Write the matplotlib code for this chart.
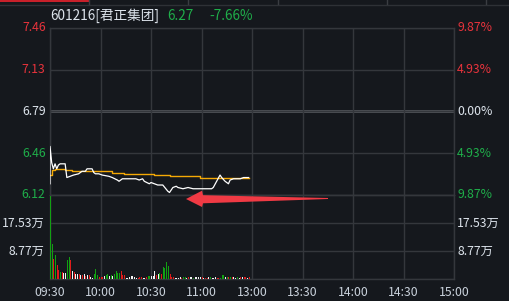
import matplotlib
matplotlib.use("Agg")
import matplotlib.pyplot as plt
from matplotlib.patches import Polygon, Rectangle

plt.rcParams['font.family'] = ['Noto Sans CJK SC', 'DejaVu Sans']

# -----------------------------
# Data
# -----------------------------
prev_close = 6.79
price_ticks = [6.12, 6.46, 6.79, 7.13, 7.46]
pct_labels = ["9.87%", "4.93%", "0.00%", "4.93%", "9.87%"]
vol_ticks = [8.77, 17.53]
vol_labels = ["8.77万", "17.53万"]
time_labels = ["09:30", "10:00", "10:30", "11:00", "13:00", "13:30", "14:00", "14:30", "15:00"]

# minute index (from 09:30) and price vertices of the white price line
price_min = [0, 0, 1, 2, 3, 4, 5, 6, 9, 10, 12, 14, 17, 19, 21, 22, 25, 26, 27, 29,
             31, 35, 37, 40, 41, 43, 45, 51, 53, 55, 56, 59, 60, 62, 64, 67, 70, 71,
             73, 75, 76, 79, 82, 85, 96, 97, 99, 101, 102, 104, 106, 107, 109, 111,
             113, 115, 118]
price_val = [6.21, 6.51, 6.38, 6.33, 6.37, 6.33, 6.36, 6.37, 6.37, 6.26, 6.27, 6.28,
             6.29, 6.31, 6.31, 6.33, 6.33, 6.30, 6.29, 6.29, 6.28, 6.27, 6.26, 6.24,
             6.23, 6.25, 6.25, 6.25, 6.24, 6.25, 6.23, 6.21, 6.22, 6.21, 6.20, 6.20,
             6.15, 6.14, 6.18, 6.19, 6.18, 6.17, 6.18, 6.17, 6.17, 6.18, 6.23, 6.28,
             6.26, 6.23, 6.21, 6.24, 6.25, 6.25, 6.25, 6.26, 6.26]

# average price line (step changes)
avg_min = [0, 1, 3, 9, 13, 37, 44, 62, 71, 89, 118]
avg_val = [6.28, 6.32, 6.33, 6.32, 6.31, 6.30, 6.29, 6.28, 6.27, 6.26, 6.26]

# per-minute volume (万) and bar colour code: r up, g down, w flat
volume = [26.0, 11.0, 6.3, 7.5, 4.4, 2.8, 2.2, 2.1, 1.8, 1.8,
          5.9, 6.9, 5.9, 2.5, 2.1, 1.6, 1.7, 1.7, 1.4, 1.3,
          1.5, 1.0, 1.3, 1.3, 0.7, 0.4, 1.5, 3.1, 1.3, 0.6,
          0.6, 0.7, 0.9, 1.3, 1.5, 0.9, 1.3, 0.9, 1.6, 2.5,
          1.8, 2.0, 2.5, 1.3, 1.2, 0.4, 0.4, 0.5, 1.0, 1.0,
          0.5, 0.4, 0.4, 0.5, 0.6, 0.3, 0.4, 0.6, 1.0, 1.0,
          0.8, 0.8, 2.5, 1.2, 1.6, 2.0, 1.6, 3.9, 3.5, 5.2,
          4.2, 1.6, 0.6, 0.6, 0.4, 0.3, 0.4, 0.6, 0.4, 0.5,
          0.5, 0.3, 0.6, 0.6, 0.5, 0.3, 0.6, 0.6, 0.5, 0.7,
          0.6, 0.3, 0.3, 0.4, 0.5, 0.6, 0.4, 0.3, 0.5, 0.4,
          0.3, 0.3, 1.3, 1.3, 0.5, 0.6, 0.5, 0.5, 0.5, 0.6,
          0.4, 0.6, 0.3, 0.5, 0.6, 0.5, 0.6, 0.4, 0.5]
vol_color = list("ggrgrrgrwwggrwrwwrwrwrwrwwgggrrrwggwgwgggg"
                 "rrrwwwwwwwrrrwwrggwwwrwgrgggg"
                 "rrrwwwwrggwrwwgwwwwrwrrwgwwwrrgggwgrgrwwgwrwrrwr")

# -----------------------------
# Style
# -----------------------------
BG = "#15181d"
GRID = "#34373c"
MID = "#54575c"
RED = "#e8333c"
GREEN = "#1fae4a"
WHITE = "#dde4ec"
BAR = {"r": "#e01b1b", "g": "#12a012", "w": "#f2f2f2"}
FS = 8.8

W, H = 509, 301
fig = plt.figure(figsize=(W / 100, H / 100), dpi=100, facecolor=BG)

L, R = 50, 454
ax = fig.add_axes([L / W, 1 - 195 / H, (R - L) / W, 167 / H])
axv = fig.add_axes([L / W, 1 - 279 / H, (R - L) / W, 84 / H])

for a in (ax, axv):
    a.set_facecolor(BG)
    a.set_xlim(0, 240)
    a.set_xticks([0, 30, 60, 90, 120, 150, 180, 210, 240])
    a.tick_params(length=0, labelleft=False, labelbottom=False)
    a.grid(True, color=GRID, lw=1)
    for s in a.spines.values():
        s.set_color(GRID)
        s.set_linewidth(1)

lo = prev_close * (1 - 0.0987)
hi = prev_close * (1 + 0.0987)
ax.set_ylim(lo, hi)
ax.set_yticks([lo, prev_close * (1 - 0.0493), prev_close, prev_close * (1 + 0.0493), hi])
ax.axhline(prev_close, color=MID, lw=2, zorder=1)

axv.set_ylim(0, 26.30)
axv.set_yticks([0] + vol_ticks + [26.30])

# price and average lines
ax.plot(avg_min, avg_val, color="#f5a905", lw=1.0, drawstyle="steps-post", zorder=3)
ax.plot(price_min, price_val, color="white", lw=0.9, zorder=4)

# volume bars
mins = list(range(len(volume)))
axv.bar(mins, volume, width=0.6, align="edge",
        color=[BAR[c] for c in vol_color], zorder=3)

# left / right labels
yt = ax.get_yticks()
left_cols = [GREEN, GREEN, WHITE, RED, RED]
for y, lab, pl, c in zip(yt, price_ticks, pct_labels, left_cols):
    ax.text(-0.011, y, f"{lab:.2f}", color=c, fontsize=FS, ha="right", va="center",
            transform=ax.get_yaxis_transform())
    ax.text(1.008, y, pl, color=c, fontsize=FS, ha="left", va="center",
            transform=ax.get_yaxis_transform())
for v, lab in zip(vol_ticks, vol_labels):
    axv.text(-0.014, v, lab, color=WHITE, fontsize=FS, ha="right", va="center",
             transform=axv.get_yaxis_transform())
    axv.text(1.008, v, lab, color=WHITE, fontsize=FS, ha="left", va="center",
             transform=axv.get_yaxis_transform())

# time labels
for i, t in enumerate(time_labels):
    axv.text(i * 30, -0.16, t, color="#c9d1db", fontsize=FS, ha="center", va="center",
             transform=axv.get_xaxis_transform())

# title line
fig.text(50 / W, 1 - 16 / H, "601216[君正集团]", color=WHITE, fontsize=9.8, va="center")
fig.text(167 / W, 1 - 16 / H, "6.27", color=GREEN, fontsize=9.8, va="center")
fig.text(209 / W, 1 - 16 / H, "-7.66%", color=GREEN, fontsize=9.8, va="center")

# top tab strip
fig.add_artist(Rectangle((0, 1 - 1.5 / H), 89 / W, 1.5 / H, transform=fig.transFigure,
                         color="#c8202a", lw=0))
fig.add_artist(plt.Line2D([0, 1], [1 - 4.5 / H, 1 - 4.5 / H], transform=fig.transFigure,
                          color="#2e3136", lw=1))
for xd in [89, 188, 278, 387, 486]:
    fig.add_artist(plt.Line2D([xd / W, xd / W], [1 - 4 / H, 1], transform=fig.transFigure,
                              color="#3a3d42", lw=1))

# red arrow annotation (pixel geometry)
arrow_px = [(186, 199), (202, 190.7), (203, 195.2), (328, 198.0), (328, 199.0),
            (203, 203.3), (202, 207)]
fig.add_artist(Polygon([(x / W, 1 - y / H) for x, y in arrow_px], closed=True,
                       transform=fig.transFigure, color="#f03a44", lw=0, zorder=10))

fig.savefig("out.png", dpi=100, facecolor=BG)
